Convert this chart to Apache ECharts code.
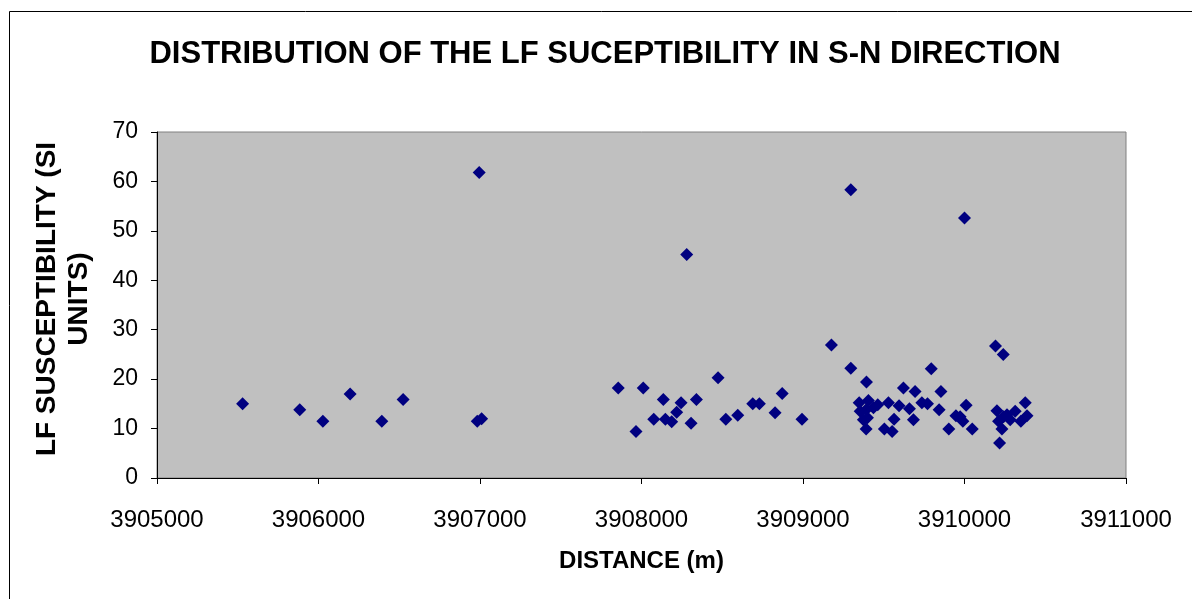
<!DOCTYPE html>
<html>
<head>
<meta charset="utf-8">
<script src="https://cdn.jsdelivr.net/npm/echarts@6/dist/echarts.min.js"></script>
<style>
html,body{margin:0;padding:0;background:#fff;}
#chart{width:1192px;height:599px;}
</style>
</head>
<body>
<div id="chart"></div>
<script>
const titleText = "DISTRIBUTION OF THE LF SUCEPTIBILITY IN S-N DIRECTION";
const xAxisTitle = "DISTANCE (m)";
const yAxisTitle = "LF SUSCEPTIBILITY (SI\nUNITS)";

const distance = [
  3905530, 3905884, 3906027, 3906196, 3906392, 3906524, 3906995, 3906983, 3907010,
  3907856, 3908011, 3907966, 3908135, 3908076, 3908148, 3908187, 3908218, 3908245,
  3908280, 3908307, 3908340, 3908474, 3908522, 3908596, 3908689, 3908730, 3908827,
  3908871, 3908994, 3909176, 3909296, 3909296,
  3910000,
  3909393, 3909348, 3909405, 3909354, 3909391, 3909374, 3909399, 3909391, 3909463,
  3909436, 3909529, 3909504, 3909552, 3909564, 3909595, 3909622, 3909659, 3909684,
  3909694, 3909736, 3909771, 3909794, 3909854, 3909843, 3909903, 3909947, 3909973,
  3909990, 3910010, 3910048, 3910192, 3910240, 3910201, 3910217, 3910232, 3910211,
  3910242, 3910263, 3910314, 3910283, 3910349, 3910376, 3910387
];
const susceptibility = [
  15.0, 13.8, 11.5, 17.0, 11.5, 15.9, 61.8, 11.5, 12.0,
  18.2, 18.2, 9.4, 15.9, 11.9, 11.9, 11.4, 13.3, 15.2,
  45.2, 11.1, 15.9, 20.3, 11.9, 12.7, 15.0, 15.0, 13.2,
  17.1, 11.9, 26.9, 22.2, 58.3,
  52.6,
  19.4, 15.2, 15.7, 13.5, 13.8, 11.8, 12.2, 9.9, 14.8,
  14.2, 15.2, 9.9, 9.4, 11.9, 14.6, 18.2, 14.0, 11.8,
  17.5, 15.2, 15.0, 22.1, 17.5, 13.8, 9.9, 12.6, 12.4,
  11.5, 14.7, 9.9, 26.7, 25.0, 13.6, 7.1, 9.9, 11.5,
  12.4, 12.8, 13.5, 11.8, 11.5, 15.2, 12.6
];

const points = distance.map((d, i) => [d, susceptibility[i]]);

const chart = echarts.init(document.getElementById('chart'), null, {renderer: 'canvas'});
const font = '"Liberation Sans", Arial, sans-serif';
chart.setOption({
  animation: false,
  backgroundColor: '#ffffff',
  title: {
    text: titleText,
    left: 600, top: 34, textAlign: 'center',
    textStyle: {fontFamily: font, fontWeight: 'bold', fontSize: 31, color: '#000'}
  },
  graphic: [{
    type: 'rect', silent: true, z: -1,
    shape: {x: 9.5, y: 11.5, width: 1400, height: 800},
    style: {fill: 'none', stroke: '#000', lineWidth: 1}
  }],
  grid: {
    left: 157, top: 132, right: 66, bottom: 121,
    show: true, backgroundColor: '#C0C0C0', borderColor: '#808080', borderWidth: 1
  },
  xAxis: {
    type: 'value', min: 3905000, max: 3911000, interval: 1000,
    name: xAxisTitle, nameLocation: 'middle', nameGap: 71,
    nameTextStyle: {fontFamily: font, fontWeight: 'bold', fontSize: 24, color: '#000'},
    axisLine: {show: true, onZero: false, lineStyle: {color: '#000', width: 1}},
    axisTick: {show: true, length: 6, inside: false, lineStyle: {color: '#000'}},
    axisLabel: {fontFamily: font, fontSize: 24, color: '#000', margin: 30,
      showMinLabel: true, showMaxLabel: true, formatter: v => String(v)},
    splitLine: {show: false}
  },
  yAxis: {
    type: 'value', min: 0, max: 70, interval: 10,
    name: yAxisTitle, nameLocation: 'middle', nameGap: 62, nameRotate: 90,
    nameTextStyle: {fontFamily: font, fontWeight: 'bold', fontSize: 28, color: '#000', lineHeight: 32, align: 'center', padding: [0, 0, 0, 12]},
    axisLine: {show: true, lineStyle: {color: '#000', width: 1}},
    axisTick: {show: true, length: 6, inside: false, lineStyle: {color: '#000'}},
    axisLabel: {fontFamily: font, fontSize: 23, color: '#000', margin: 19},
    splitLine: {show: false}
  },
  series: [{
    type: 'scatter',
    data: points,
    symbol: 'diamond',
    symbolSize: 13,
    itemStyle: {color: '#000080', opacity: 1}
  }]
});
</script>
</body>
</html>
